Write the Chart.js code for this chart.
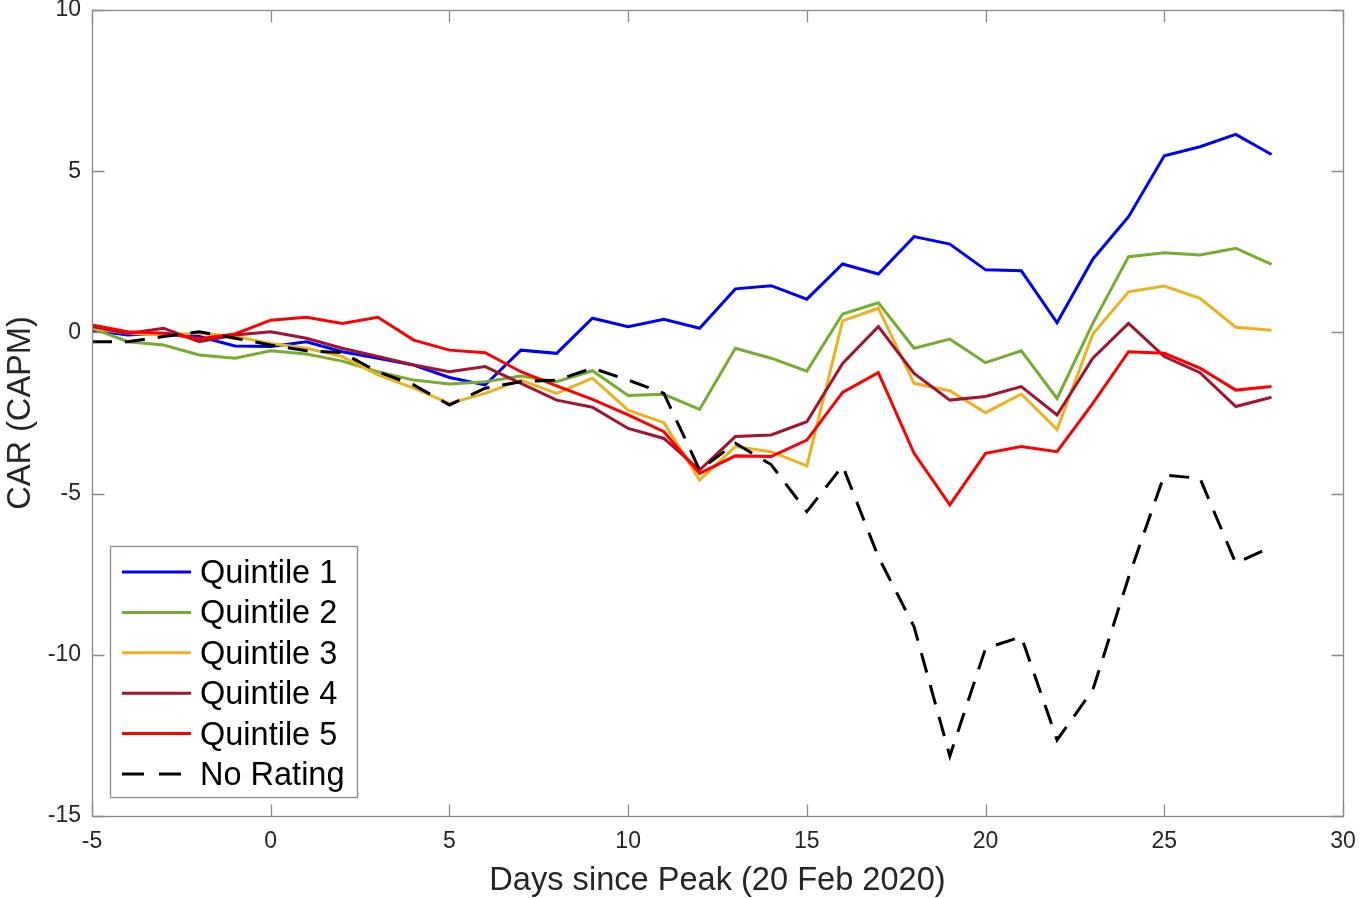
<!DOCTYPE html>
<html>
<head>
<meta charset="utf-8">
<script src="https://cdn.jsdelivr.net/npm/chart.js@4.4.1/dist/chart.umd.min.js"></script>
<style>
html,body{margin:0;padding:0;background:#fff;}
#wrap{width:1361px;height:898px;}
</style>
</head>
<body>
<div id="wrap"><canvas id="c" width="1361" height="898"></canvas></div>
<script>
const days = [-5,-4,-3,-2,-1,0,1,2,3,4,5,6,7,8,9,10,11,12,13,14,15,16,17,18,19,20,21,22,23,24,25,26,27,28];

const quintile1 = [0.07,-0.08,-0.03,-0.13,-0.42,-0.44,-0.29,-0.6,-0.8,-1.01,-1.4,
  -1.63,-0.55,-0.65,0.44,0.18,0.41,0.13,
  1.35,1.45,1.03,2.12,1.81,2.97,2.74,1.94,1.91,0.3,2.27,3.59,5.48,5.76,6.14,5.52];
const quintile2 = [0.13,-0.29,-0.39,-0.70,-0.80,-0.57,-0.67,-0.89,-1.22,-1.48,-1.6,
  -1.53,-1.35,-1.53,-1.19,-1.96,-1.92,-2.39,
  -0.49,-0.8,-1.2,0.57,0.92,-0.49,-0.21,-0.94,-0.57,-2.05,0.28,2.35,2.47,2.4,2.61,2.11];
const quintile3 = [0.13,-0.03,-0.08,-0.03,-0.13,-0.34,-0.49,-0.75,-1.32,-1.73,-2.2,
  -1.89,-1.48,-1.89,-1.42,-2.41,-2.8,-4.58,
  -3.54,-3.7,-4.14,0.36,0.75,-1.58,-1.81,-2.49,-1.91,-3.01,-0.05,1.26,1.44,1.06,0.16,0.07];
const quintile4 = [0.18,-0.03,0.13,-0.29,-0.08,0.02,-0.18,-0.49,-0.75,-1.01,-1.22,
  -1.06,-1.58,-2.1,-2.32,-2.98,-3.29,-4.27,
  -3.23,-3.18,-2.77,-0.96,0.18,-1.27,-2.1,-1.99,-1.68,-2.56,-0.8,0.28,-0.75,-1.25,-2.3,-2.01];
const quintile5 = [0.23,0.02,-0.03,-0.2,-0.05,0.38,0.47,0.28,0.47,-0.24,-0.55,
  -0.63,-1.22,-1.66,-2.08,-2.56,-3.08,-4.37,
  -3.83,-3.85,-3.34,-1.86,-1.25,-3.75,-5.35,-3.75,-3.54,-3.7,-2.2,-0.6,-0.65,-1.11,-1.79,-1.68];
const noRating = [-0.29,-0.29,-0.13,0.02,-0.18,-0.39,-0.57,-0.63,-1.22,-1.63,-2.25,
  -1.73,-1.53,-1.48,-1.11,-1.48,-1.89,-4.27,
  -3.44,-4.1,-5.56,-4.14,-6.96,-9.13,-13.14,-9.8,-9.44,-12.64,-11.09,-7.6,-4.42,-4.53,-7.16,-6.65];

const seriesNames = ["Quintile 1","Quintile 2","Quintile 3","Quintile 4","Quintile 5","No Rating"];
const seriesValues = [quintile1, quintile2, quintile3, quintile4, quintile5, noRating];
const seriesColors = ["#0000FF","#77AC30","#EDB120","#A2142F","#FF0000","#000000"];

const xTicks = [-5,0,5,10,15,20,25,30];
const yTicks = [-15,-10,-5,0,5,10];

const FONT = "'Liberation Sans', Arial, Helvetica, sans-serif";
const AXIS_GRAY = "#8a8a8a";

const datasets = seriesNames.map((name, i) => ({
  label: name,
  data: days.map((d, k) => ({x: d, y: seriesValues[i][k]})),
  borderColor: seriesColors[i],
  backgroundColor: seriesColors[i],
  borderWidth: 3,
  borderDash: i === 5 ? [20, 13] : [],
  pointRadius: 0,
  tension: 0,
  fill: false,
  order: -i
}));

const boxPlugin = {
  id: 'matlabBox',
  afterDatasetsDraw(chart) {
    const {ctx, chartArea: a, scales} = chart;
    ctx.save();
    ctx.strokeStyle = AXIS_GRAY;
    ctx.lineWidth = 1.3;
    const L = Math.round(a.left) + 0.5, R = Math.round(a.right) + 0.5;
    const T = Math.round(a.top) + 0.5, B = Math.round(a.bottom) + 0.5;
    ctx.strokeRect(L, T, R - L, B - T);
    const tl = 12;
    ctx.beginPath();
    xTicks.forEach(v => {
      const px = Math.round(scales.x.getPixelForValue(v)) + 0.5;
      ctx.moveTo(px, B); ctx.lineTo(px, B - tl);
      ctx.moveTo(px, T); ctx.lineTo(px, T + tl);
    });
    yTicks.forEach(v => {
      const py = Math.round(scales.y.getPixelForValue(v)) + 0.5;
      ctx.moveTo(L, py); ctx.lineTo(L + tl, py);
      ctx.moveTo(R, py); ctx.lineTo(R - tl, py);
    });
    ctx.stroke();

    // legend box
    const lx = 110.5, ly = 546.5, lw = 247, lh = 251;
    ctx.fillStyle = "#ffffff";
    ctx.fillRect(lx, ly, lw, lh);
    ctx.strokeStyle = AXIS_GRAY;
    ctx.lineWidth = 1.3;
    ctx.strokeRect(lx, ly, lw, lh);
    ctx.font = "32.5px " + FONT;
    ctx.textBaseline = "middle";
    ctx.textAlign = "left";
    chart.data.datasets.forEach((ds, i) => {
      const cy = 572 + i * 40.4;
      ctx.beginPath();
      ctx.strokeStyle = ds.borderColor;
      ctx.lineWidth = 3;
      ctx.setLineDash(ds.borderDash && ds.borderDash.length ? [22, 15] : []);
      ctx.moveTo(122, cy);
      ctx.lineTo(184, cy);
      if (!(ds.borderDash && ds.borderDash.length)) ctx.lineTo(191, cy);
      ctx.stroke();
      ctx.setLineDash([]);
      ctx.fillStyle = "#000";
      ctx.fillText(ds.label, 200, cy + 2);
    });
    ctx.restore();
  }
};

new Chart(document.getElementById('c'), {
  type: 'line',
  data: {datasets},
  options: {
    responsive: false,
    animation: false,
    devicePixelRatio: 1,
    layout: {padding: {left: 0, top: 10, right: 18, bottom: 0}},
    plugins: {legend: {display: false}, tooltip: {enabled: false}},
    scales: {
      x: {
        type: 'linear',
        min: -5, max: 30,
        afterBuildTicks: s => { s.ticks = xTicks.map(v => ({value: v})); },
        afterFit: s => { s.height = 82; s.paddingLeft = 0; s.paddingRight = 0; },
        grid: {display: false, drawTicks: false},
        border: {display: false},
        ticks: {padding: 12, color: "#262626", font: {family: FONT, size: 23}, maxRotation: 0},
        title: {display: true, text: "Days since Peak (20 Feb 2020)", color: "#262626",
                font: {family: FONT, size: 32.6, lineHeight: 1.05}, padding: {top: 0, bottom: 0}}
      },
      y: {
        type: 'linear',
        min: -15, max: 10,
        afterBuildTicks: s => { s.ticks = yTicks.map(v => ({value: v})); },
        afterFit: s => { s.width = 92; s.paddingTop = 0; s.paddingBottom = 0; },
        grid: {display: false, drawTicks: false},
        border: {display: false},
        ticks: {padding: 11, color: "#262626", font: {family: FONT, size: 23}},
        title: {display: true, text: "CAR (CAPM)", color: "#262626",
                font: {family: FONT, size: 32.6, lineHeight: 1.05}, padding: {top: 4, bottom: 0}}
      }
    }
  },
  plugins: [boxPlugin]
});
</script>
</body>
</html>
